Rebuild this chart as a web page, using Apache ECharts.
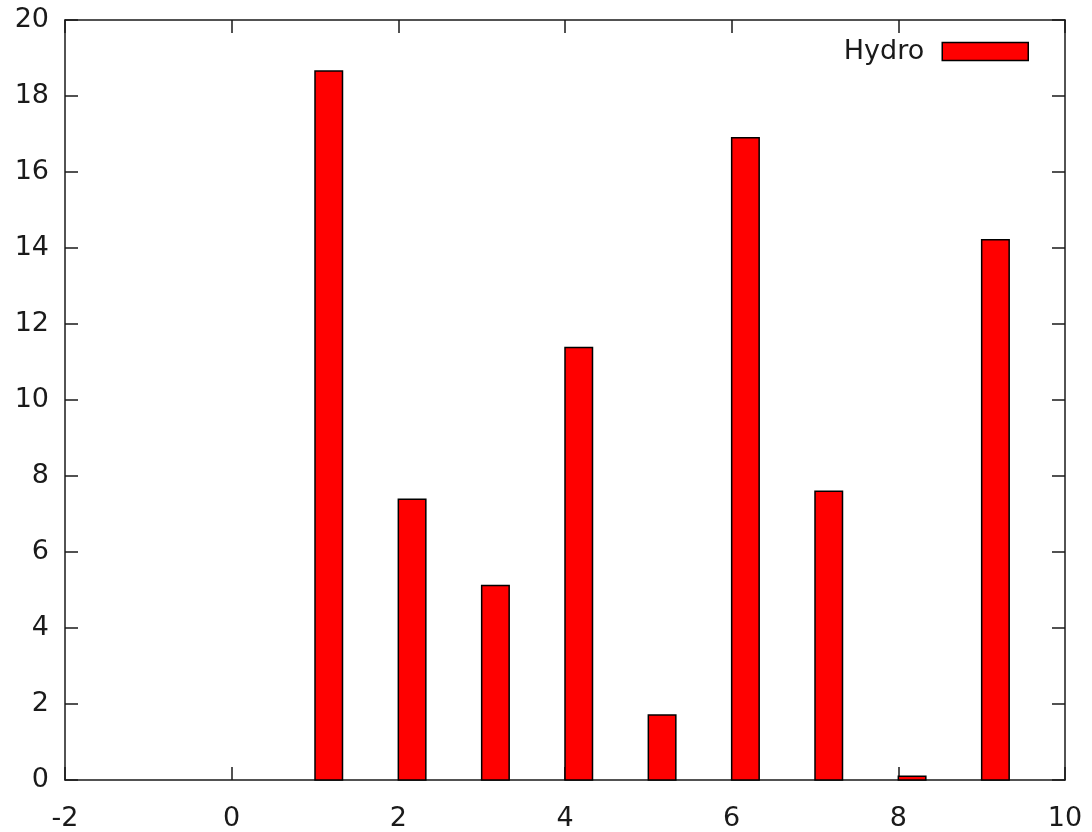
<!DOCTYPE html>
<html><head><meta charset="utf-8">
<script src="https://cdn.jsdelivr.net/npm/echarts@6/dist/echarts.min.js"></script>
<style>html,body{margin:0;padding:0;background:#fff}#c{width:1092px;height:832px}</style>
</head><body><div id="c"></div>
<script>
var seriesName = 'Hydro';
var xPositions = [1, 2, 3, 4, 5, 6, 7, 8, 9];
var hydroValues = [18.66, 7.39, 5.12, 11.38, 1.71, 16.9, 7.6, 0.1, 14.22];
var barSpan = 0.33;

var data = xPositions.map(function (x, i) { return [x, hydroValues[i]]; });
var font = 'DejaVu Sans';
var axisColor = '#1a1a1a';
function axis(pos, showLabel, isX) {
  return {
    type: 'value', position: pos,
    min: isX ? -2 : 0, max: isX ? 10 : 20, interval: 2,
    axisLine: { show: true, onZero: false, lineStyle: { color: axisColor, width: 1.5 } },
    axisTick: { show: true, inside: true, length: 13, lineStyle: { color: axisColor, width: 1.5 } },
    splitLine: { show: false },
    axisLabel: { show: showLabel, color: axisColor, fontFamily: font, fontSize: 27, margin: isX ? 25 : 16 }
  };
}
var chart = echarts.init(document.getElementById('c'), null, { renderer: 'canvas' });
chart.setOption({
  animation: false,
  backgroundColor: '#fff',
  grid: { left: 65, top: 20, width: 1000, height: 761 },
  xAxis: [axis('bottom', true, true), axis('top', false, true)],
  yAxis: [axis('left', true, false), axis('right', false, false)],
  legend: {
    data: [seriesName], right: 58, top: 33, align: 'right', icon: 'rect',
    itemWidth: 86, itemHeight: 18, itemGap: 10,
    itemStyle: { borderColor: '#000', borderWidth: 1.5 },
    textStyle: { fontFamily: font, fontSize: 27, color: axisColor, padding: [7, 13, 0, 0] }
  },
  series: [{
    name: seriesName, type: 'custom', xAxisIndex: 0, yAxisIndex: 0,
    itemStyle: { color: '#ff0000' },
    data: data,
    renderItem: function (params, api) {
      var x = api.value(0), v = api.value(1);
      var p1 = api.coord([x, v]);
      var p0 = api.coord([x + barSpan, 0]);
      return {
        type: 'rect',
        shape: { x: p1[0], y: p1[1], width: p0[0] - p1[0], height: p0[1] - p1[1] },
        style: { fill: '#ff0000', stroke: '#000', lineWidth: 1.5 }
      };
    }
  }]
});
</script></body></html>
